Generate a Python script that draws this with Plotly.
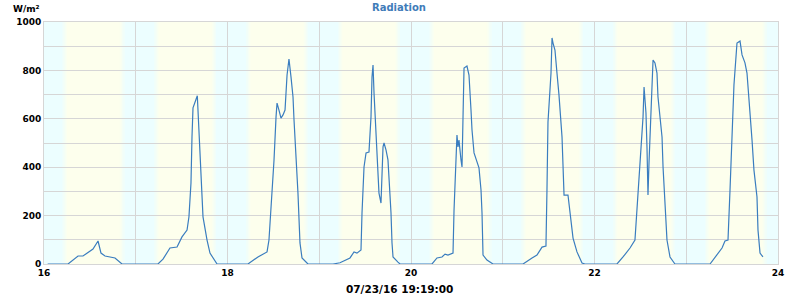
import plotly.graph_objects as go

# Time in days of July 2016, radiation in W/m²
times = [
    16.04, 16.262, 16.371, 16.425, 16.534, 16.589, 16.621, 16.665, 16.774, 16.850,
    17.242, 17.297, 17.373, 17.450, 17.504, 17.559, 17.580, 17.602, 17.613, 17.624, 17.671, 17.678, 17.700, 17.722, 17.733, 17.777, 17.809, 17.886,
    18.223, 18.332, 18.431, 18.452, 18.485, 18.507, 18.529, 18.540, 18.561, 18.583, 18.605, 18.627, 18.649, 18.670, 18.692, 18.714, 18.725, 18.757, 18.768, 18.790, 18.812, 18.877,
    19.150, 19.226, 19.335, 19.379, 19.411, 19.455, 19.466, 19.488, 19.510, 19.542, 19.564, 19.575, 19.586, 19.597, 19.619, 19.640, 19.651, 19.673, 19.684, 19.695, 19.706, 19.728, 19.749, 19.760, 19.782, 19.793, 19.804, 19.858, 19.880,
    20.229, 20.283, 20.338, 20.371, 20.403, 20.458, 20.469, 20.490, 20.501, 20.512, 20.523, 20.545, 20.556, 20.567, 20.578, 20.610, 20.632, 20.654, 20.665, 20.687, 20.719, 20.741, 20.763, 20.774, 20.785, 20.828, 20.894,
    21.221, 21.319, 21.373, 21.428, 21.471, 21.482, 21.493, 21.526, 21.537, 21.548, 21.569, 21.591, 21.613, 21.646, 21.657, 21.668, 21.711, 21.733, 21.766, 21.809, 21.864, 21.896,
    22.245, 22.311, 22.387, 22.441, 22.463, 22.496, 22.529, 22.540, 22.561, 22.572, 22.583, 22.594, 22.616, 22.638, 22.659, 22.681, 22.692, 22.736, 22.747, 22.768, 22.790, 22.823, 22.877,
    23.259, 23.313, 23.390, 23.422, 23.455, 23.477, 23.499, 23.520, 23.553, 23.586, 23.608, 23.640, 23.662, 23.684, 23.717, 23.738, 23.771, 23.782, 23.804, 23.836,
]
radiation = [
    0, 0, 33, 33, 62, 95, 45, 33, 25, 0,
    0, 20, 66, 70, 112, 140, 195, 335, 525, 645, 695, 636, 512, 318, 195, 99, 45, 0,
    0, 29, 50, 99, 293, 430, 608, 665, 636, 603, 616, 636, 781, 847, 773, 690, 595, 401, 293, 87, 25, 0,
    0, 5, 25, 50, 45, 58, 211, 401, 459, 463, 608, 773, 822, 707, 554, 401, 293, 252, 388, 484, 500, 471, 430, 360, 211, 87, 29, 8, 0,
    0, 25, 29, 41, 37, 45, 223, 471, 533, 484, 512, 430, 401, 608, 810, 818, 781, 636, 554, 459, 421, 397, 306, 211, 37, 16, 0,
    0, 25, 37, 70, 74, 306, 587, 789, 934, 913, 884, 789, 698, 525, 417, 285, 285, 202, 107, 50, 4, 0,
    0, 29, 66, 99, 223, 450, 608, 731, 624, 484, 285, 417, 636, 843, 831, 789, 690, 525, 401, 252, 99, 29, 0,
    0, 29, 66, 95, 99, 306, 512, 740, 913, 921, 864, 831, 789, 690, 512, 388, 277, 140, 45, 29,
]

night_start = [15.85, 16.85, 17.85, 18.85, 19.85, 20.85, 21.85, 22.85, 23.85]
night_end = [16.23, 17.23, 18.23, 19.23, 20.23, 21.23, 22.23, 23.23, 24.23]

x_ticks = [16, 18, 20, 22, 24]
y_ticks = [0, 200, 400, 600, 800, 1000]

title_text = "Radiation"
unit_text = "W/m²"
xlabel_text = "07/23/16 19:19:00"

DAY = (253, 255, 237)
NIGHT = (236, 254, 255)
LINE = "#3a7dbf"
GRID = "#d6d6d6"
FONT = "DejaVu Sans"


def mix(a, b, f):
    return "rgb(%d,%d,%d)" % tuple(round(a[i] + (b[i] - a[i]) * f) for i in range(3))


shapes = []
w = 0.05
n = 6
for s, e in zip(night_start, night_end):
    shapes.append(dict(type="rect", xref="x", yref="paper", x0=s + w / 2, x1=e - w / 2, y0=0, y1=1,
                       fillcolor=mix(DAY, NIGHT, 1), line=dict(width=0), layer="below"))
    for i in range(n):
        f = (i + 0.5) / n
        x0 = s - w / 2 + i * w / n
        shapes.append(dict(type="rect", xref="x", yref="paper", x0=x0, x1=x0 + w / n, y0=0, y1=1,
                           fillcolor=mix(DAY, NIGHT, f), line=dict(width=0), layer="below"))
        x0 = e + w / 2 - (i + 1) * w / n
        shapes.append(dict(type="rect", xref="x", yref="paper", x0=x0, x1=x0 + w / n, y0=0, y1=1,
                           fillcolor=mix(DAY, NIGHT, f), line=dict(width=0), layer="below"))

fig = go.Figure()
fig.add_trace(go.Scatter(x=times, y=radiation, mode="lines",
                         line=dict(color=LINE, width=1.2), hoverinfo="x+y", showlegend=False))

fig.update_layout(
    width=800, height=300,
    margin=dict(l=44, r=22, t=22, b=36),
    paper_bgcolor="white",
    plot_bgcolor=mix(DAY, DAY, 0),
    shapes=shapes,
    font=dict(family=FONT, color="black"),
    annotations=[
        dict(text=title_text, xref="paper", yref="paper", x=0.4837, y=1.06, xanchor="center",
             yanchor="middle", showarrow=False, font=dict(family=FONT, size=10, weight="bold", color="#3f7cb9")),
        dict(text=unit_text, xref="paper", yref="paper", x=-0.045, y=1.053, xanchor="left",
             yanchor="middle", showarrow=False, font=dict(family=FONT, size=9, weight="bold", color="black")),
        dict(text=xlabel_text, xref="paper", yref="paper", x=0.485, y=-0.103, xanchor="center",
             yanchor="middle", showarrow=False, font=dict(family=FONT, size=10.5, weight="bold", color="black")),
    ],
    xaxis=dict(range=[16, 24], tickvals=x_ticks, ticktext=[str(v) for v in x_ticks],
               showgrid=True, gridcolor=GRID, gridwidth=1,
               minor=dict(dtick=1, showgrid=True, gridcolor=GRID, gridwidth=1),
               showline=True, linecolor=GRID, linewidth=1, mirror=True,
               zeroline=False, ticks="", ticklen=0,
               tickfont=dict(family=FONT, size=9, weight="bold", color="black")),
    yaxis=dict(range=[0, 1000], tickvals=y_ticks, ticktext=[str(v) for v in y_ticks],
               showgrid=True, gridcolor=GRID, gridwidth=1,
               minor=dict(dtick=100, showgrid=True, gridcolor=GRID, gridwidth=1),
               showline=True, linecolor=GRID, linewidth=1, mirror=True,
               zeroline=False, ticks="", ticklen=0,
               tickfont=dict(family=FONT, size=9, weight="bold", color="black")),
)

fig.write_html("out.html")
